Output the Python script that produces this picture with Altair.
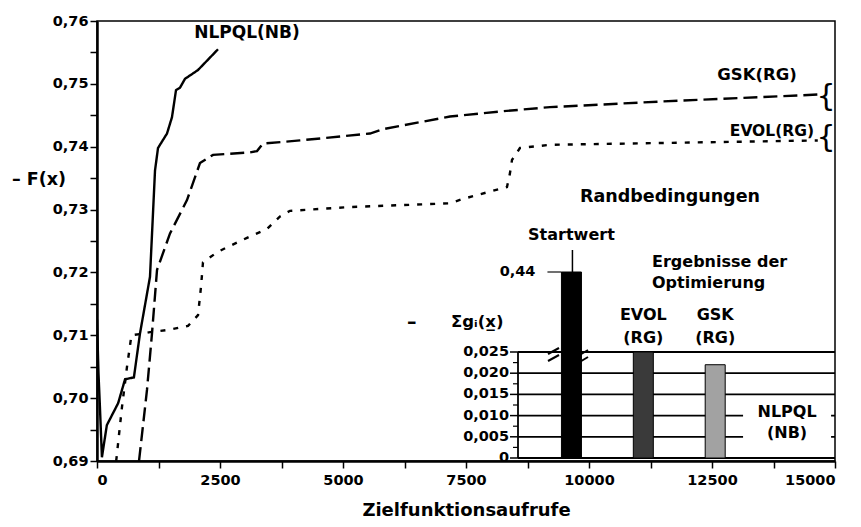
import altair as alt
import pandas as pd

FONT = "DejaVu Sans"

# Objective value -F(x) over the number of objective function calls
nlpql_calls = [0, 30, 60, 100, 200, 430, 570, 750, 874, 1077, 1179, 1240, 1423, 1524, 1606, 1687, 1789, 2053, 2459]
nlpql_vals = [0.7125, 0.7040, 0.6985, 0.6906, 0.6957, 0.6992, 0.7030, 0.7033, 0.7103, 0.7193, 0.7362,
              0.7398, 0.7421, 0.7447, 0.7490, 0.7494, 0.7508, 0.7522, 0.7555]

gsk_calls = [854, 1016, 1118, 1220, 1484, 1829, 2093, 2358, 3110, 3252, 3374, 4126, 5549, 5813, 7175,
             8190, 9207, 11500, 14650]
gsk_vals = [0.6900, 0.7013, 0.7103, 0.7204, 0.7262, 0.7315, 0.7374, 0.7387, 0.7391, 0.7393, 0.7405,
            0.7410, 0.7421, 0.7428, 0.7448, 0.7456, 0.7463, 0.7472, 0.7483]

evol_calls = [390, 508, 610, 700, 874, 1077, 1484, 1850, 2053, 2114, 2154, 2439, 2642, 3049, 3455, 3720,
              3923, 5142, 7175, 7439, 8333, 8394, 8435, 8597, 9207, 14650]
evol_vals = [0.6900, 0.6986, 0.7050, 0.7100, 0.7102, 0.7105, 0.7109, 0.7115, 0.7132, 0.7177, 0.7216,
             0.7232, 0.7240, 0.7255, 0.7269, 0.7289, 0.7298, 0.7304, 0.7310, 0.7317, 0.7336, 0.7358,
             0.7379, 0.7398, 0.7403, 0.7410]

series_names = ["NLPQL(NB)", "GSK(RG)", "EVOL(RG)"]

# Constraint sum for the start value and the optimisation results
bar_cats = ["Startwert", "EVOL (RG)", "GSK (RG)", "NLPQL (NB)"]
bar_vals = [0.44, 0.025, 0.022, 0.0]
bar_colors = ["#000000", "#3a3a3a", "#a2a2a2", "#ffffff"]

inset_ticks = [0.0, 0.005, 0.010, 0.015, 0.020, 0.025]
inset_tick_labels = ["0", "0,005", "0,010", "0,015", "0,020", "0,025"]
inset_minor = [0.0025, 0.0075, 0.0125, 0.0175, 0.0225]

lines_df = pd.concat([
    pd.DataFrame({"calls": nlpql_calls, "f": nlpql_vals, "method": series_names[0], "order": range(len(nlpql_calls))}),
    pd.DataFrame({"calls": gsk_calls, "f": gsk_vals, "method": series_names[1], "order": range(len(gsk_calls))}),
    pd.DataFrame({"calls": evol_calls, "f": evol_vals, "method": series_names[2], "order": range(len(evol_calls))}),
])

bars_df = pd.DataFrame({"cat": bar_cats, "g": bar_vals, "col": bar_colors})
ticks_df = pd.DataFrame({"g": inset_ticks, "lab": inset_tick_labels})
minor_df = pd.DataFrame({"g": inset_minor})
one = pd.DataFrame({"k": [0]})

PLOT_L, PLOT_T = 97, 21
W, H = 738, 440

x_ticks = [i * 1250 for i in range(13)]
y_ticks = [round(0.69 + i * 0.005, 3) for i in range(15)]

lines = alt.Chart(lines_df).mark_line(color="black", strokeWidth=2.4, clip=True).encode(
    x=alt.X("calls:Q",
            scale=alt.Scale(domain=[0, 15000], nice=False),
            axis=alt.Axis(values=x_ticks,
                          labelExpr="datum.value % 2500 == 0 ? format(datum.value, 'd') : ''",
                          title="Zielfunktionsaufrufe", titleFontSize=18, titlePadding=15,
                          labelPadding=5)),
    y=alt.Y("f:Q",
            scale=alt.Scale(domain=[0.69, 0.76], nice=False, zero=False),
            axis=alt.Axis(values=y_ticks,
                          labelExpr="round(datum.value * 1000) % 10 == 0 ? replace(format(datum.value, '.2f'), '.', ',') : ''",
                          title=None, labelPadding=2)),
    strokeDash=alt.StrokeDash("method:N",
                              scale=alt.Scale(domain=series_names, range=[[1, 0], [14, 6], [5, 8]]),
                              legend=None),
    detail="method:N",
    order="order:Q",
)

# inset scales: categories across the lower right, broken value axis
cat_x = alt.X("cat:N", scale=alt.Scale(domain=bar_cats, range=[438.5, 726], paddingInner=0, paddingOuter=0),
              axis=None)
g_scale = alt.Scale(domain=[0, 0.025, 0.44], range=[437, 331, 251], nice=False, zero=False)

INSET_L = 518 - PLOT_L


def px(x):
    return alt.value(x - PLOT_L)


def py(y):
    return alt.value(y - PLOT_T)


grid = alt.Chart(ticks_df).mark_rule(color="black", strokeWidth=1.8).encode(
    y=alt.Y("g:Q", scale=g_scale, axis=None), x=alt.value(INSET_L), x2=alt.value(W))
inset_axis = alt.Chart(one).mark_rule(color="black", strokeWidth=1.8).encode(
    x=alt.value(INSET_L), y=alt.Y("a:Q", scale=g_scale, axis=None), y2="b:Q"
).transform_calculate(a="0", b="0.025")
major_t = alt.Chart(ticks_df).mark_rule(color="black", strokeWidth=1.5).encode(
    y=alt.Y("g:Q", scale=g_scale, axis=None), x=alt.value(INSET_L - 8), x2=alt.value(INSET_L))
minor_t = alt.Chart(minor_df).mark_rule(color="black", strokeWidth=1.2).encode(
    y=alt.Y("g:Q", scale=g_scale, axis=None), x=alt.value(INSET_L - 5), x2=alt.value(INSET_L))
tick_text = alt.Chart(ticks_df).mark_text(font=FONT, fontWeight="bold", fontSize=14.5, align="right",
                                          baseline="middle").encode(
    y=alt.Y("g:Q", scale=g_scale, axis=None), x=alt.value(INSET_L - 9), text="lab:N")

label_bg = alt.Chart(pd.DataFrame({"cat": [bar_cats[3]], "lo": [0.0018], "hi": [0.0132]})).mark_bar(
    size=88, color="white").encode(x=cat_x, y=alt.Y("lo:Q", scale=g_scale, axis=None), y2="hi:Q")

bars = alt.Chart(bars_df).mark_bar(size=20, stroke="black", strokeWidth=1).encode(
    x=cat_x,
    y=alt.Y("g:Q", scale=g_scale, axis=None),
    y2=alt.datum(0),
    fill=alt.Fill("col:N", scale=None),
)

start_df = bars_df.iloc[[0]]
stem = alt.Chart(start_df).mark_rule(color="black", strokeWidth=1.5, xOffset=1).encode(
    x=cat_x, y=alt.Y("g:Q", scale=g_scale, axis=None), y2=py(250))
start_tick = alt.Chart(start_df).mark_tick(color="black", size=14, thickness=1.6, xOffset=-17,
                                           orient="horizontal").encode(
    x=cat_x, y=alt.Y("g:Q", scale=g_scale, axis=None))
start_lab = alt.Chart(start_df).mark_text(font=FONT, fontWeight="bold", fontSize=14.5, align="right",
                                          baseline="middle", xOffset=-36).encode(
    x=cat_x, y=alt.Y("g:Q", scale=g_scale, axis=None),
    text=alt.value("0,44"))


def seg(x1, y1, x2, y2):
    return alt.Chart(one).mark_rule(color="black", strokeWidth=2).encode(
        x=px(x1), y=py(y1), x2=px(x2), y2=py(y2))


breaks = [seg(548, 354, 559, 348), seg(548, 361, 559, 355), seg(578, 356, 588, 350), seg(578, 363, 588, 357)]


def cat_label(cat, text, y):
    return alt.Chart(pd.DataFrame({"cat": [cat]})).mark_text(
        font=FONT, fontWeight="bold", fontSize=16, align="center", baseline="middle").encode(
        x=cat_x, y=py(y), text=alt.value(text))


cat_labels = [
    cat_label(bar_cats[0], "Startwert", 235),
    cat_label(bar_cats[1], "EVOL", 315), cat_label(bar_cats[1], "(RG)", 338),
    cat_label(bar_cats[2], "GSK", 315), cat_label(bar_cats[2], "(RG)", 338),
    cat_label(bar_cats[3], "NLPQL", 412), cat_label(bar_cats[3], "(NB)", 433),
]


def note(text, x, y, size=16, align="center", weight="bold"):
    return alt.Chart(one).mark_text(font=FONT, fontWeight=weight, fontSize=size, align=align,
                                    baseline="middle").encode(x=px(x), y=py(y), text=alt.value(text))


notes = [
    note("Randbedingungen", 670, 197, size=17.5),
    note("Ergebnisse der", 652, 262, align="left"),
    note("Optimierung", 652, 283, align="left"),
    note("–", 407, 322, size=19, align="left"),
    note("Σgᵢ(x̲)", 451, 322, size=16.5, align="left"),
    note(series_names[0], 247, 33, size=17),
    note(series_names[1], 757, 75, size=16.5),
    note(series_names[2], 814, 131, size=15.5, align="right"),
    note("{", 826, 97, size=30, weight="normal"),
    note("{", 826, 138, size=30, weight="normal"),
    note("–  F(x)", 12, 180, size=17.5, align="left"),
]

chart = alt.layer(
    lines, grid, label_bg, inset_axis, major_t, minor_t, tick_text, bars, stem, start_tick, start_lab,
    *breaks, *cat_labels, *notes
).resolve_scale(x="independent", y="independent").properties(
    width=W, height=H,
    autosize=alt.AutoSizeParams(type="none"),
    padding={"left": PLOT_L, "top": PLOT_T, "right": 861 - PLOT_L - W, "bottom": 527 - PLOT_T - H},
).configure_view(stroke="black", strokeWidth=1.5).configure_axis(
    labelFont=FONT, labelFontWeight="bold", labelFontSize=14.5, labelColor="black",
    titleFont=FONT, titleFontWeight="bold", titleColor="black",
    domainColor="black", domainWidth=2.5, tickColor="black", tickWidth=1.5, tickSize=7, grid=False,
)

chart.save("out.html", embed_options={"renderer": "svg", "actions": False})
